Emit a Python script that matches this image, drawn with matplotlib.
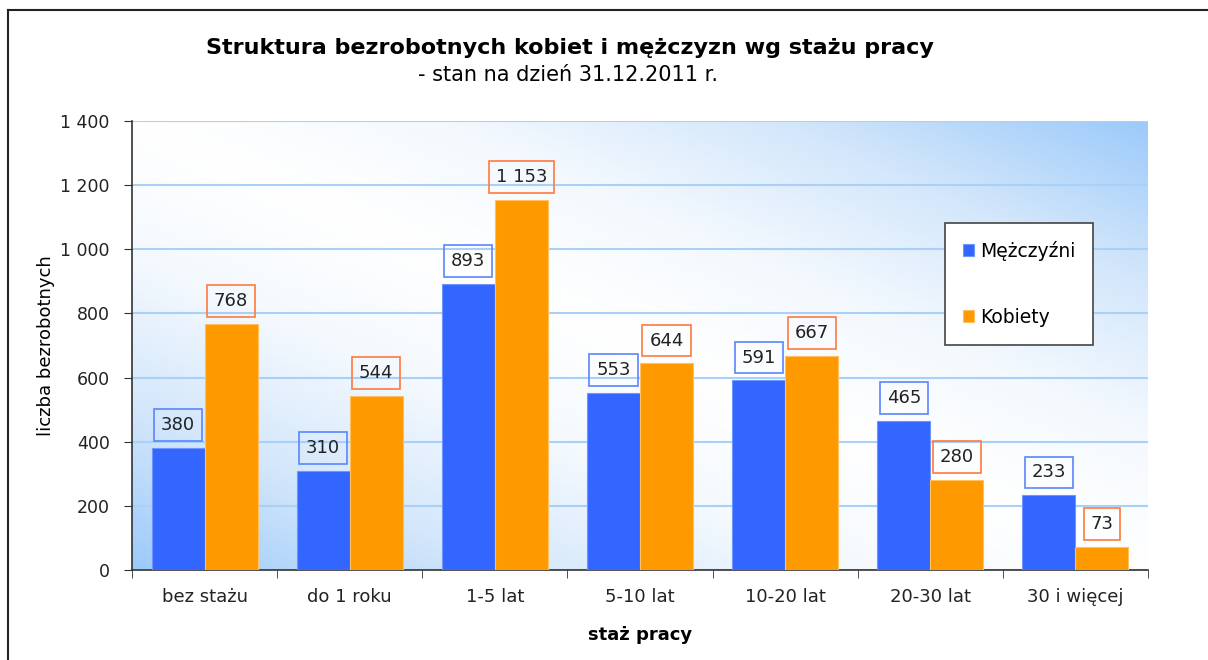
import numpy as np
import matplotlib.pyplot as plt
from matplotlib.lines import Line2D
from matplotlib.colors import LinearSegmentedColormap
from matplotlib.ticker import FuncFormatter

plt.rcParams['font.family'] = ['DejaVu Sans']

categories = ["bez stażu", "do 1 roku", "1-5 lat", "5-10 lat", "10-20 lat", "20-30 lat", "30 i więcej"]
men = [380, 310, 893, 553, 591, 465, 233]
women = [768, 544, 1153, 644, 667, 280, 73]
yticks = [0, 200, 400, 600, 800, 1000, 1200, 1400]

blue = "#3366ff"
orange = "#ff9900"

fig = plt.figure(figsize=(12.08, 6.6), dpi=100)
ax = fig.add_axes([132/1208, 1-570/660, 1016/1208, 449/660])

# background gradient: blue in bottom-left / top-right corners, white across the middle
u, v = np.meshgrid(np.linspace(0, 1, 300), np.linspace(1, 0, 200))
g = np.abs(u + v - 1)
cmap = LinearSegmentedColormap.from_list(
    "bg", [(0, "#ffffff"), (0.3, "#f4f9fe"), (0.65, "#d2e6fb"), (1, "#9ccafa")])
ax.imshow(g, cmap=cmap, extent=[0, 1, 0, 1], transform=ax.transAxes,
          aspect="auto", zorder=0, vmin=0, vmax=1)

x = np.arange(len(categories))
w = 0.365
ax.bar(x - w/2, men, w, color=blue, edgecolor="#6f96ff", linewidth=0.8, zorder=3, label="Mężczyźni")
ax.bar(x + w/2, women, w, color=orange, edgecolor="#ffc060", linewidth=0.8, zorder=3, label="Kobiety")

fmt = lambda val: "{:,}".format(int(val)).replace(",", " ")

for xi, m, k in zip(x, men, women):
    ax.annotate(fmt(m), (xi - w/2, m), xytext=(0, 10), textcoords="offset points",
                ha="center", va="bottom", fontsize=13, color="#222222", zorder=5,
                bbox=dict(boxstyle="square,pad=0.38", fc="none", ec="#5a86ff", lw=1.2))
    ax.annotate(fmt(k), (xi + w/2, k), xytext=(0, 10), textcoords="offset points",
                ha="center", va="bottom", fontsize=13, color="#222222", zorder=5,
                bbox=dict(boxstyle="square,pad=0.38", fc="none", ec="#ff7a3d", lw=1.2))

ax.set_xlim(-0.5, len(categories) - 0.5)
ax.set_ylim(0, 1400)
ax.set_yticks(yticks)
ax.yaxis.set_major_formatter(FuncFormatter(lambda val, pos: fmt(val)))
ax.yaxis.grid(True, color="#a9d1f7", linewidth=1.5, zorder=1)
ax.set_axisbelow(True)

ax.set_xticks(x)
ax.set_xticklabels(categories)
ax.set_xticks(np.arange(-0.5, len(categories)), minor=True)
ax.tick_params(axis="x", which="major", length=0, pad=13, labelsize=13, labelcolor="#222222")
ax.tick_params(axis="x", which="minor", length=6, direction="out", color="#333333")
ax.tick_params(axis="y", length=6, direction="out", color="#333333", labelsize=12.5,
               labelcolor="#222222", pad=10)

for s in ["top", "right"]:
    ax.spines[s].set_visible(False)
for s in ["left", "bottom"]:
    ax.spines[s].set_color("#333333")
    ax.spines[s].set_linewidth(1.2)

ax.set_xlabel("staż pracy", fontsize=13, fontweight="bold", labelpad=14)
ax.set_ylabel("liczba bezrobotnych", fontsize=13, labelpad=4)

fig.text(570/1208, 1-48/660, "Struktura bezrobotnych kobiet i mężczyzn wg stażu pracy",
         ha="center", va="center", fontsize=16, fontweight="bold")
fig.text(568/1208, 1-75/660, "- stan na dzień 31.12.2011 r.",
         ha="center", va="center", fontsize=15)

leg = ax.legend(loc="upper left", bbox_to_anchor=(945/1208, 1-223/660),
                bbox_transform=fig.transFigure, fontsize=13.5, frameon=True,
                fancybox=False, handlelength=0.6, handleheight=0.6, handletextpad=0.3,
                labelspacing=2.5, borderpad=0.95, borderaxespad=0)
leg.get_frame().set_edgecolor("#444444")
leg.get_frame().set_linewidth(1.2)
leg.get_frame().set_alpha(1)

# outer chart frame
fig.add_artist(Line2D([8/1208, 8/1208], [0, 1-10/660], transform=fig.transFigure,
                      color="#222222", lw=1.5))
fig.add_artist(Line2D([8/1208, 1], [1-10/660, 1-10/660], transform=fig.transFigure,
                      color="#222222", lw=1.5))

fig.savefig("out.png", dpi=100)
